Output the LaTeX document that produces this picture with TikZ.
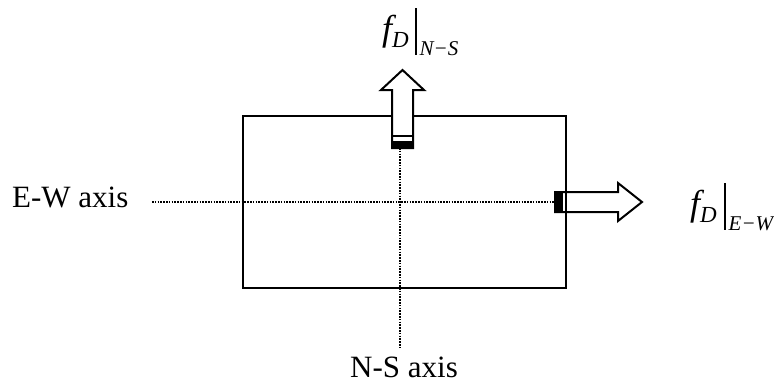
\documentclass[tikz,border=0pt]{standalone}
\usepackage{fontspec}
\setmainfont{Liberation Serif}
\begin{document}
\begin{tikzpicture}[x=1pt,y=-1pt,
  box/.style={line width=2pt},
  axisline/.style={line width=2.3pt, dash pattern=on 1.6pt off 1.2pt},
  bigarrow/.style={line width=2pt, fill=white, line join=miter},
  lab/.style={inner sep=0pt, font=\fontsize{31}{36}\selectfont},
  fnode/.style={inner sep=0pt, anchor=base west, font=\fontsize{36}{40}\selectfont\itshape},
  subnode/.style={inner sep=0pt, anchor=base west, font=\fontsize{21}{24}\selectfont\itshape},
  evalbar/.style={line width=1.8pt}]
\useasboundingbox (0,0) rectangle (774,384);
% body
\draw[box] (243,116) rectangle (566,288);
% axes
\coordinate (ewL) at (152,202);
\coordinate (ewR) at (555,202);
\coordinate (nsT) at (400,148);
\coordinate (nsB) at (400,349);
\draw[axisline] (ewL) -- (ewR);
\draw[axisline] (nsT) -- (nsB);
% up arrow (N-S force)
\draw[bigarrow] (392,148) -- (392,90) -- (381,90) -- (402.5,70) -- (424,90) -- (413,90) -- (413,148) -- cycle;
\fill (391,140.5) rectangle (414,149);
\draw[line width=2pt] (392,135.5) -- (413,135.5);
% right arrow (E-W force)
\draw[bigarrow] (555,192) -- (618,192) -- (618,183) -- (642,202) -- (618,221) -- (618,212) -- (555,212) -- cycle;
\fill (554,191) rectangle (562.5,213);
\draw[line width=2.4pt] (566,191) -- (566,213);
% labels
\node[lab, anchor=base west] (ew) at (12,207) {E-W axis};
\node[lab, anchor=base west] (ns) at (350,377) {N-S axis};
% f_D |_{N-S}
\node[fnode] (f1) at (382,40) {f\raisebox{-7pt}{\fontsize{23}{26}\selectfont D}};
\coordinate (b1t) at (416,8);
\coordinate (b1b) at (416,55);
\draw[evalbar] (b1t) -- (b1b);
\node[subnode] (s1) at (419.5,55) {N−S};
% f_D |_{E-W}
\node[fnode] (f2) at (690,215) {f\raisebox{-7pt}{\fontsize{23}{26}\selectfont D}};
\coordinate (b2t) at (725,183);
\coordinate (b2b) at (725,230);
\draw[evalbar] (b2t) -- (b2b);
\node[subnode] (s2) at (728.5,230) {E−W};
\end{tikzpicture}
\end{document}
